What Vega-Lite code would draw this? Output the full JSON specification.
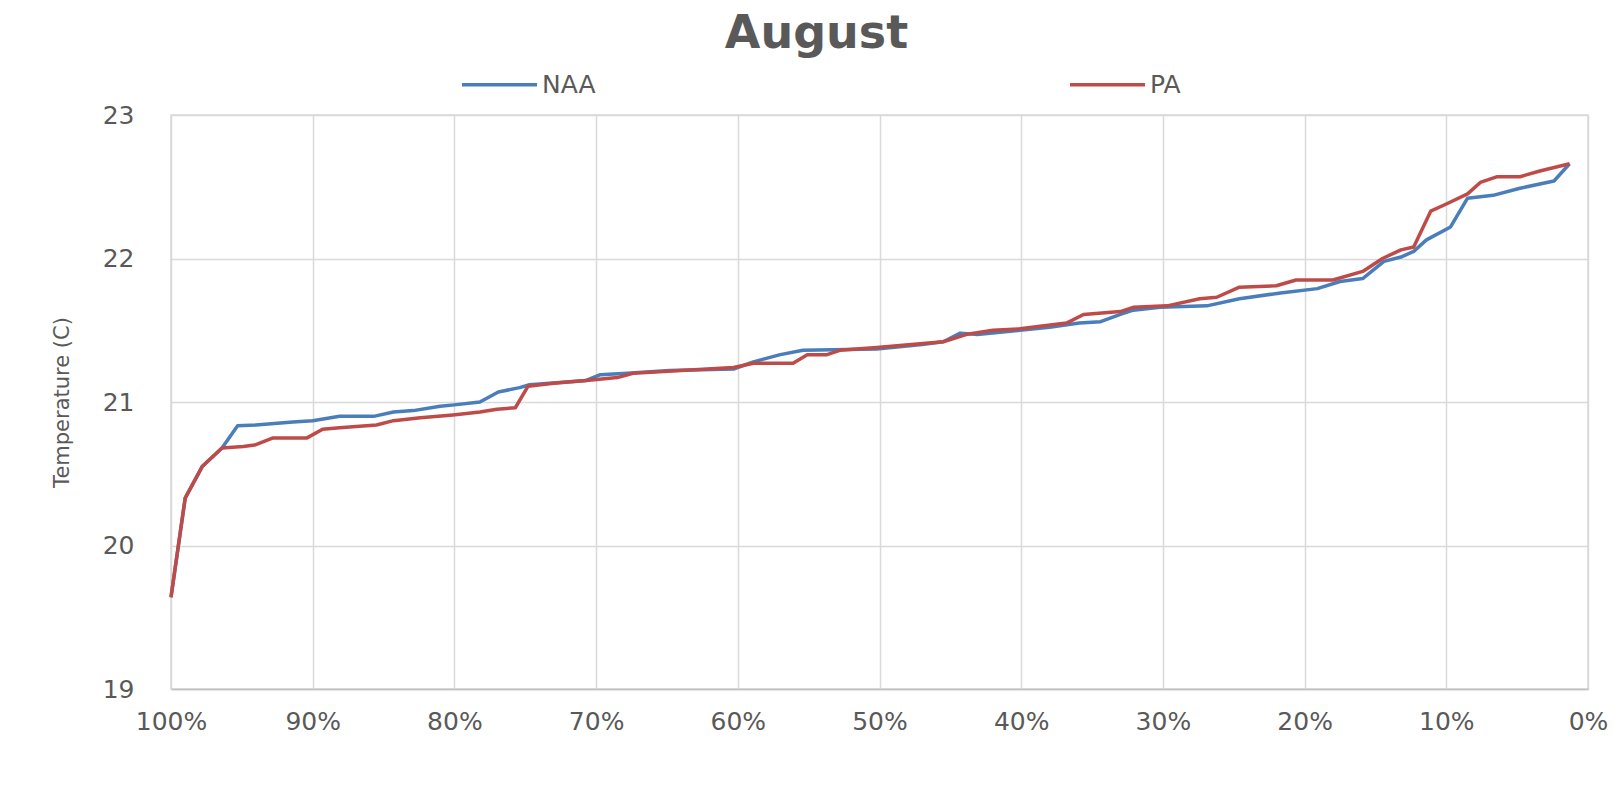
{
  "$schema": "https://vega.github.io/schema/vega-lite/v6.json",
  "width": 1417,
  "height": 574,
  "autosize": {"type": "none"},
  "padding": {"left": 171, "top": 115, "right": 25, "bottom": 102},
  "background": "white",
  "title": {
    "text": "August",
    "font": "DejaVu Sans",
    "fontSize": 46,
    "fontWeight": "bold",
    "color": "#595959",
    "anchor": "middle",
    "frame": "group",
    "dx": -63,
    "offset": 50,
    "dy": 63
  },
  "data": {
    "values": [
      {"p": 100, "t": 19.64, "s": "NAA"},
      {"p": 99.0, "t": 20.33, "s": "NAA"},
      {"p": 97.8, "t": 20.55, "s": "NAA"},
      {"p": 96.4, "t": 20.68, "s": "NAA"},
      {"p": 95.3, "t": 20.835, "s": "NAA"},
      {"p": 94.0, "t": 20.84, "s": "NAA"},
      {"p": 91.4, "t": 20.86, "s": "NAA"},
      {"p": 90.0, "t": 20.87, "s": "NAA"},
      {"p": 88.1, "t": 20.9, "s": "NAA"},
      {"p": 85.7, "t": 20.9, "s": "NAA"},
      {"p": 84.3, "t": 20.93, "s": "NAA"},
      {"p": 82.9, "t": 20.94, "s": "NAA"},
      {"p": 81.0, "t": 20.97, "s": "NAA"},
      {"p": 80.0, "t": 20.98, "s": "NAA"},
      {"p": 78.2, "t": 21.0, "s": "NAA"},
      {"p": 76.9, "t": 21.07, "s": "NAA"},
      {"p": 75.4, "t": 21.1, "s": "NAA"},
      {"p": 74.7, "t": 21.12, "s": "NAA"},
      {"p": 70.7, "t": 21.15, "s": "NAA"},
      {"p": 69.7, "t": 21.19, "s": "NAA"},
      {"p": 67.8, "t": 21.2, "s": "NAA"},
      {"p": 64.8, "t": 21.22, "s": "NAA"},
      {"p": 60.3, "t": 21.23, "s": "NAA"},
      {"p": 58.9, "t": 21.28, "s": "NAA"},
      {"p": 57.0, "t": 21.33, "s": "NAA"},
      {"p": 55.4, "t": 21.36, "s": "NAA"},
      {"p": 50.2, "t": 21.37, "s": "NAA"},
      {"p": 47.0, "t": 21.4, "s": "NAA"},
      {"p": 45.5, "t": 21.42, "s": "NAA"},
      {"p": 44.3, "t": 21.48, "s": "NAA"},
      {"p": 43.1, "t": 21.47, "s": "NAA"},
      {"p": 40.1, "t": 21.5, "s": "NAA"},
      {"p": 38.0, "t": 21.52, "s": "NAA"},
      {"p": 35.9, "t": 21.55, "s": "NAA"},
      {"p": 34.4, "t": 21.56, "s": "NAA"},
      {"p": 33.0, "t": 21.61, "s": "NAA"},
      {"p": 32.1, "t": 21.64, "s": "NAA"},
      {"p": 30.2, "t": 21.66, "s": "NAA"},
      {"p": 26.9, "t": 21.67, "s": "NAA"},
      {"p": 24.6, "t": 21.72, "s": "NAA"},
      {"p": 21.7, "t": 21.76, "s": "NAA"},
      {"p": 19.1, "t": 21.79, "s": "NAA"},
      {"p": 17.5, "t": 21.84, "s": "NAA"},
      {"p": 15.9, "t": 21.86, "s": "NAA"},
      {"p": 14.4, "t": 21.98, "s": "NAA"},
      {"p": 13.2, "t": 22.01, "s": "NAA"},
      {"p": 12.3, "t": 22.05, "s": "NAA"},
      {"p": 11.4, "t": 22.13, "s": "NAA"},
      {"p": 9.7, "t": 22.22, "s": "NAA"},
      {"p": 8.5, "t": 22.42, "s": "NAA"},
      {"p": 6.7, "t": 22.44, "s": "NAA"},
      {"p": 4.8, "t": 22.49, "s": "NAA"},
      {"p": 2.4, "t": 22.54, "s": "NAA"},
      {"p": 1.3, "t": 22.66, "s": "NAA"},
      {"p": 100, "t": 19.64, "s": "PA"},
      {"p": 99.0, "t": 20.33, "s": "PA"},
      {"p": 97.8, "t": 20.55, "s": "PA"},
      {"p": 96.4, "t": 20.68, "s": "PA"},
      {"p": 94.9, "t": 20.69, "s": "PA"},
      {"p": 94.1, "t": 20.7, "s": "PA"},
      {"p": 92.8, "t": 20.75, "s": "PA"},
      {"p": 90.4, "t": 20.75, "s": "PA"},
      {"p": 89.3, "t": 20.81, "s": "PA"},
      {"p": 88.1, "t": 20.82, "s": "PA"},
      {"p": 85.5, "t": 20.84, "s": "PA"},
      {"p": 84.3, "t": 20.87, "s": "PA"},
      {"p": 82.4, "t": 20.89, "s": "PA"},
      {"p": 80.1, "t": 20.91, "s": "PA"},
      {"p": 78.2, "t": 20.93, "s": "PA"},
      {"p": 77.0, "t": 20.95, "s": "PA"},
      {"p": 75.7, "t": 20.96, "s": "PA"},
      {"p": 74.8, "t": 21.11, "s": "PA"},
      {"p": 73.0, "t": 21.13, "s": "PA"},
      {"p": 70.7, "t": 21.15, "s": "PA"},
      {"p": 68.5, "t": 21.17, "s": "PA"},
      {"p": 67.4, "t": 21.2, "s": "PA"},
      {"p": 60.3, "t": 21.24, "s": "PA"},
      {"p": 58.9, "t": 21.27, "s": "PA"},
      {"p": 56.1, "t": 21.27, "s": "PA"},
      {"p": 55.1, "t": 21.33, "s": "PA"},
      {"p": 53.7, "t": 21.33, "s": "PA"},
      {"p": 52.8, "t": 21.36, "s": "PA"},
      {"p": 50.2, "t": 21.38, "s": "PA"},
      {"p": 45.5, "t": 21.42, "s": "PA"},
      {"p": 43.9, "t": 21.47, "s": "PA"},
      {"p": 42.0, "t": 21.5, "s": "PA"},
      {"p": 40.1, "t": 21.51, "s": "PA"},
      {"p": 36.8, "t": 21.55, "s": "PA"},
      {"p": 35.6, "t": 21.61, "s": "PA"},
      {"p": 33.0, "t": 21.63, "s": "PA"},
      {"p": 32.1, "t": 21.66, "s": "PA"},
      {"p": 29.7, "t": 21.67, "s": "PA"},
      {"p": 27.4, "t": 21.72, "s": "PA"},
      {"p": 26.2, "t": 21.73, "s": "PA"},
      {"p": 24.6, "t": 21.8, "s": "PA"},
      {"p": 22.0, "t": 21.81, "s": "PA"},
      {"p": 20.6, "t": 21.85, "s": "PA"},
      {"p": 18.0, "t": 21.85, "s": "PA"},
      {"p": 15.9, "t": 21.91, "s": "PA"},
      {"p": 14.5, "t": 22.0, "s": "PA"},
      {"p": 13.2, "t": 22.06, "s": "PA"},
      {"p": 12.3, "t": 22.08, "s": "PA"},
      {"p": 11.1, "t": 22.33, "s": "PA"},
      {"p": 10.0, "t": 22.38, "s": "PA"},
      {"p": 8.5, "t": 22.45, "s": "PA"},
      {"p": 7.6, "t": 22.53, "s": "PA"},
      {"p": 6.4, "t": 22.57, "s": "PA"},
      {"p": 4.8, "t": 22.57, "s": "PA"},
      {"p": 3.4, "t": 22.61, "s": "PA"},
      {"p": 1.3, "t": 22.66, "s": "PA"}
    ]
  },
  "mark": {"type": "line", "strokeWidth": 3.5, "strokeJoin": "round"},
  "encoding": {
    "x": {
      "field": "p",
      "type": "quantitative",
      "scale": {"domain": [100, 0], "nice": false},
      "axis": {
        "title": null,
        "values": [0, 10, 20, 30, 40, 50, 60, 70, 80, 90, 100],
        "labelExpr": "datum.value + '%'",
        "labelFlush": false,
        "labelFont": "DejaVu Sans",
        "labelFontSize": 25,
        "labelColor": "#595959",
        "labelPadding": 20,
        "ticks": false,
        "domainColor": "#bfbfbf",
        "domainWidth": 1.5,
        "gridColor": "#d9d9d9",
        "gridWidth": 1.5
      }
    },
    "y": {
      "field": "t",
      "type": "quantitative",
      "scale": {"domain": [19, 23], "nice": false, "zero": false},
      "axis": {
        "title": "Temperature (C)",
        "titleFont": "DejaVu Sans",
        "titleFontSize": 21,
        "titleFontWeight": "normal",
        "titleColor": "#595959",
        "titlePadding": 30,
        "values": [19, 20, 21, 22, 23],
        "labelFont": "DejaVu Sans",
        "labelFontSize": 25,
        "labelColor": "#595959",
        "labelPadding": 37,
        "ticks": false,
        "domain": false,
        "gridColor": "#d9d9d9",
        "gridWidth": 1.5
      }
    },
    "color": {
      "field": "s",
      "type": "nominal",
      "scale": {"domain": ["NAA", "PA"], "range": ["#4a7ebb", "#be4b48"]},
      "legend": {
        "title": null,
        "orient": "none",
        "legendX": 289,
        "legendY": -70,
        "direction": "horizontal",
        "columns": 2,
        "columnPadding": 467,
        "symbolType": "stroke",
        "symbolSize": 5625,
        "symbolStrokeWidth": 3.5,
        "labelFont": "DejaVu Sans",
        "labelFontSize": 25,
        "labelColor": "#595959",
        "labelOffset": 3
      }
    }
  },
  "config": {
    "view": {"stroke": "#d9d9d9", "strokeWidth": 1.5}
  }
}
